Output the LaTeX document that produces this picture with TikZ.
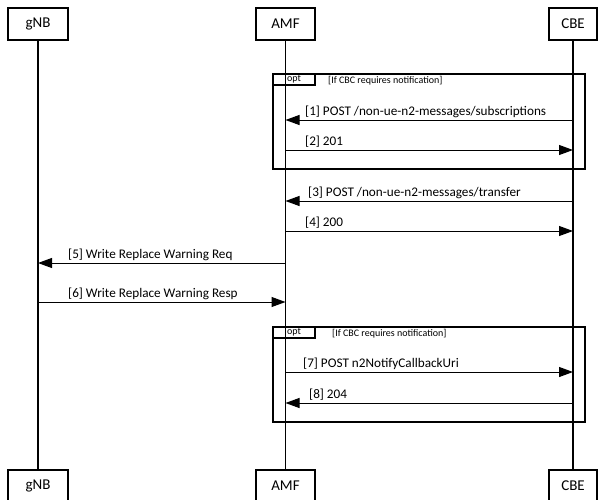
\documentclass[tikz,border=0pt]{standalone}
\usepackage{fontspec}
\setmainfont{Carlito}
\usetikzlibrary{arrows.meta}

\tikzset{
  entity/.style={draw, line width=1.6pt, minimum height=32pt, inner sep=0pt,
    font=\fontsize{15}{17}\selectfont},
  lifeline/.style={line width=1.8pt},
  msg/.style={line width=1pt, -{Triangle[length=14pt,width=10pt]}},
  msglabel/.style={anchor=base west, inner sep=0pt, font=\fontsize{13.2}{15}\selectfont},
  optframe/.style={line width=1.2pt},
  optlabel/.style={inner sep=0pt, font=\fontsize{10}{11}\selectfont}
}

\begin{document}
\begin{tikzpicture}[x=1pt, y=-1pt]
  \useasboundingbox (0,0) rectangle (598,499);

  % Draw entities and lifelines
  \foreach \name/\x/\w/\txt in {gnb/38/60/gNB, amf/285.5/59/AMF, cbe/573/48/CBE} {
    \node[entity, minimum width=\w pt] (\name-top) at (\x,24) {\txt};
    \node[entity, minimum width=\w pt] (\name-bot) at (\x,486) {\txt};
    \draw[lifeline] (\name-top) -- (\name-bot);
  }

  % Draw opt frames
  \foreach \i/\top/\bot/\cx in {1/74/169/328, 2/327/422/332} {
    \draw[optframe, fill=none] (273,\top) rectangle (585,\bot);
    \draw[optframe] (273,\top) rectangle (315,\top+11);
    \node[optlabel] (opt\i) at (294,\top+5) {opt};
    \node[optlabel, anchor=west] (cond\i) at (\cx,\top+7) {[If CBC requires notification]};
  }

  % Draw messages
  \foreach \i/\from/\to/\y/\lx/\txt in {
      1/cbe/amf/120/305/{[1] POST /non-ue-n2-messages/subscriptions},
      2/amf/cbe/150/305/{[2] 201},
      3/cbe/amf/201/308/{[3] POST /non-ue-n2-messages/transfer},
      4/amf/cbe/231/305/{[4] 200},
      5/amf/gnb/263/68/{[5] Write Replace Warning Req},
      6/gnb/amf/302/68/{[6] Write Replace Warning Resp},
      7/amf/cbe/372/303/{[7] POST n2NotifyCallbackUri},
      8/cbe/amf/403/309/{[8] 204}} {
    \draw[msg] (\from-top |- 0,\y) -- (\to-top |- 0,\y);
    \node[msglabel] (msg\i) at (\lx,\y-5) {\txt};
  }
\end{tikzpicture}
\end{document}
